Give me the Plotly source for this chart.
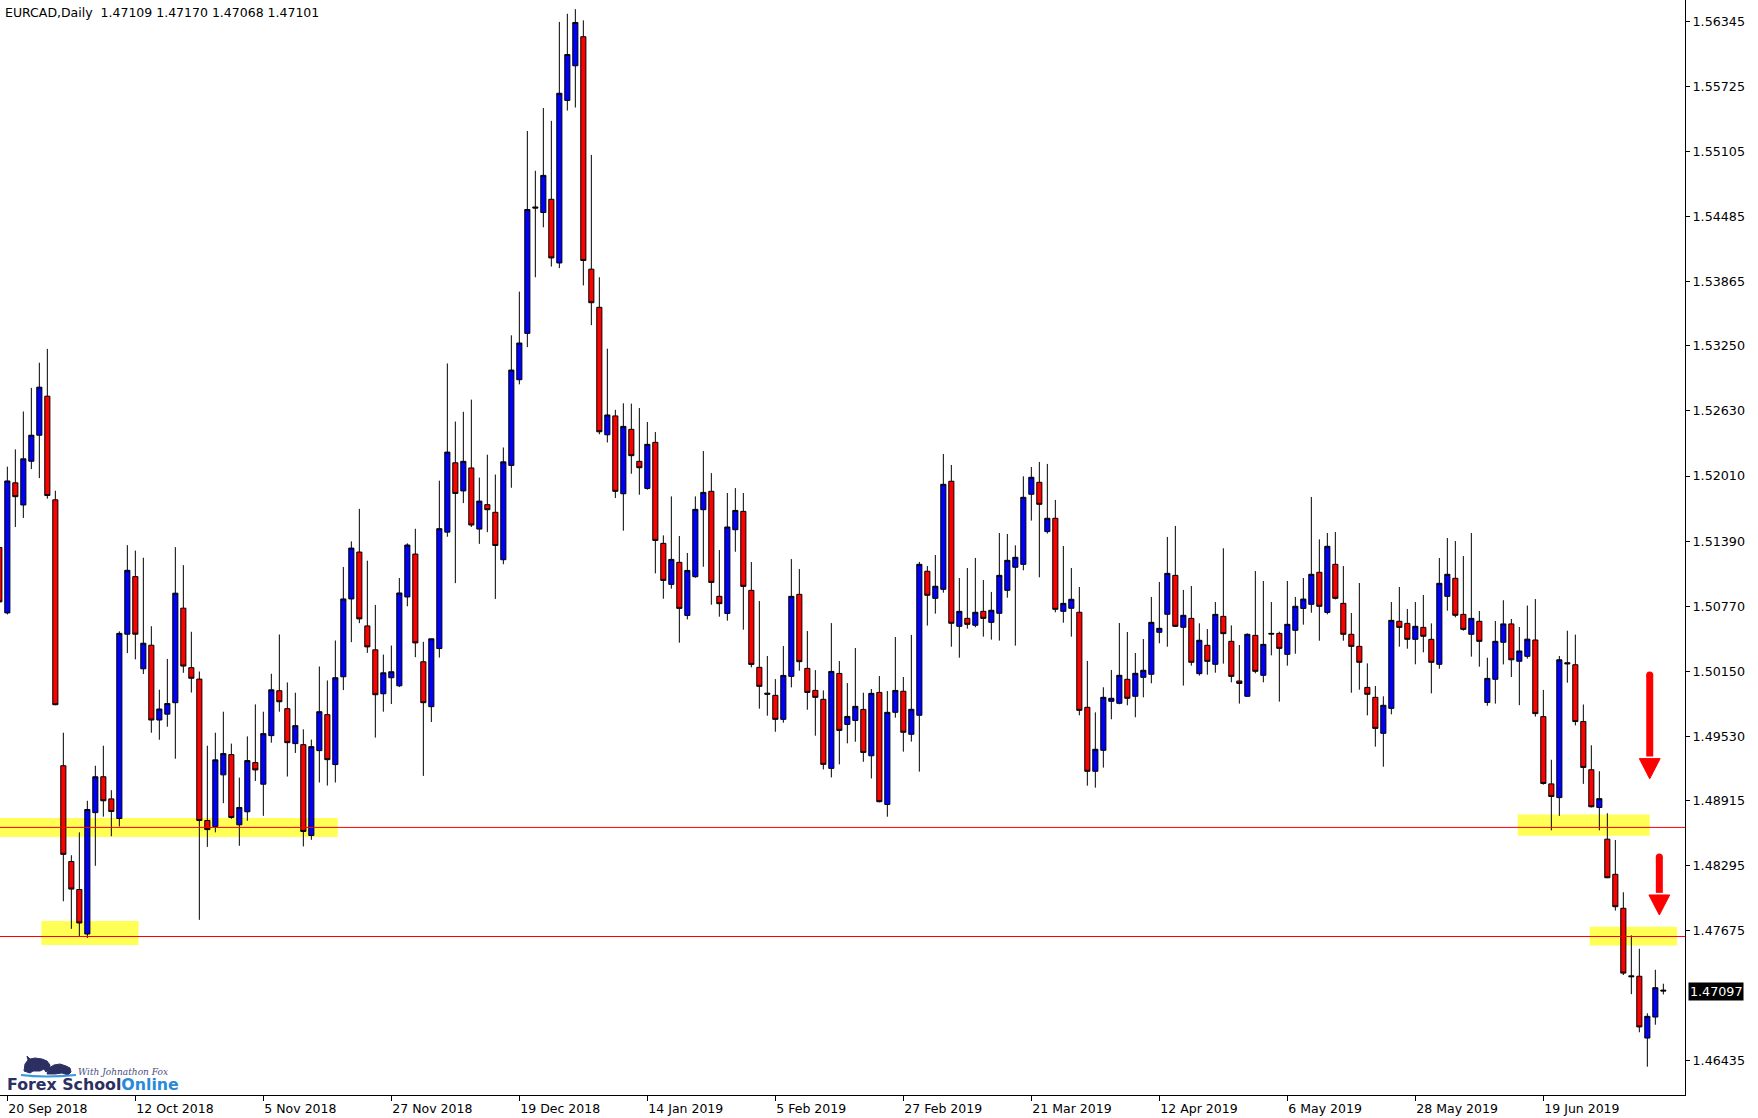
import plotly.graph_objects as go

# ---------------- data (EURCAD daily) ----------------
open_ = [1.51329,1.50705,1.51945,1.51734,1.52151,1.52399,1.52771,1.51783,1.49248,1.48335,
         1.48068,1.47644,1.48801,1.49143,1.48932,1.48745,1.50502,1.51051,1.50172,1.50397,
         1.49684,1.49740,1.49849,1.50750,1.50183,1.50074,1.48726,1.48669,1.49161,1.49354,
         1.48685,1.48809,1.49278,1.49072,1.49535,1.49963,1.49792,1.49459,1.49449,1.48583,
         1.49392,1.49735,1.49259,1.50096,1.50838,1.51285,1.50581,1.50353,1.49934,1.50087,
         1.50010,1.50857,1.51266,1.50239,1.49811,1.50365,1.51475,1.52136,1.51868,1.52087,
         1.51504,1.51737,1.51664,1.51212,1.52111,1.52928,1.53370,1.54575,1.54522,1.54648,
         1.54041,1.55591,1.55921,1.56198,1.53982,1.53618,1.52403,1.52583,1.51841,1.52455,
         1.52150,1.51892,1.52331,1.51368,1.50977,1.51187,1.50681,1.51050,1.51689,1.51864,
         1.50863,1.50700,1.51498,1.51673,1.50920,1.50186,1.49940,1.49919,1.49690,1.50100,
         1.50882,1.50176,1.49966,1.49881,1.49223,1.50128,1.49642,1.49680,1.49785,1.49343,
         1.49947,1.48879,1.49757,1.49958,1.49548,1.49729,1.51102,1.50844,1.50930,1.51960,
         1.50577,1.50653,1.50587,1.50720,1.50615,1.50701,1.50920,1.51140,1.51168,1.51836,
         1.51950,1.51480,1.51607,1.50720,1.50749,1.50711,1.49805,1.49195,1.49395,1.49862,
         1.49843,1.50072,1.49910,1.50091,1.50120,1.50520,1.50692,1.51063,1.50568,1.50653,
         1.50126,1.50396,1.50215,1.50672,1.50434,1.50056,1.49910,1.50491,1.50110,1.50510,
         1.50510,1.50310,1.50539,1.50748,1.50787,1.51092,1.50710,1.51168,1.50796,1.50501,
         1.50386,1.49995,1.49900,1.49557,1.49795,1.50625,1.50605,1.50453,1.50567,1.50453,
         1.50215,1.50863,1.51035,1.50691,1.50501,1.50625,1.49852,1.50072,1.50425,1.50600,
         1.50244,1.50291,1.50447,1.49716,1.49075,1.48944,1.50230,1.50211,1.49669,1.49210,
         1.48850,1.48548,1.48213,1.47889,1.47245,1.47241,1.46652,1.46852,1.47109]
high = [1.51450,1.52099,1.52264,1.52625,1.52850,1.53090,1.53222,1.51870,1.49563,1.48395,
        1.48613,1.48914,1.49248,1.49439,1.49015,1.50529,1.51351,1.51299,1.51231,1.50578,
        1.49973,1.50266,1.51332,1.51160,1.50525,1.50146,1.49439,1.49563,1.49763,1.49459,
        1.49135,1.49528,1.49833,1.49763,1.50125,1.50499,1.50042,1.49944,1.49595,1.49497,
        1.50194,1.50061,1.50442,1.51143,1.51387,1.51697,1.51203,1.50781,1.50308,1.50394,
        1.51038,1.51368,1.51507,1.50429,1.50458,1.51966,1.53083,1.52529,1.52622,1.52738,
        1.51995,1.52213,1.52024,1.52282,1.53351,1.53768,1.55299,1.54920,1.55518,1.55396,
        1.56339,1.56417,1.56461,1.56354,1.55071,1.53905,1.53224,1.52641,1.52703,1.52700,
        1.52658,1.52525,1.52429,1.51444,1.51816,1.51438,1.51276,1.51816,1.52248,1.52038,
        1.51304,1.51848,1.51895,1.51848,1.51190,1.50818,1.50294,1.50074,1.50389,1.51218,
        1.51123,1.50532,1.50160,1.49966,1.50608,1.50246,1.50036,1.50370,1.49944,1.49979,
        1.50103,1.49960,1.50475,1.50094,1.50495,1.51191,1.51152,1.51257,1.52220,1.52115,
        1.51038,1.51133,1.51229,1.51019,1.50905,1.51467,1.51457,1.51349,1.52007,1.52096,
        1.52144,1.52125,1.51782,1.51343,1.51133,1.50952,1.50247,1.49757,1.49996,1.50161,
        1.50609,1.50523,1.50323,1.50456,1.50857,1.51000,1.51429,1.51534,1.50924,1.50962,
        1.50606,1.50551,1.50809,1.51321,1.50586,1.50399,1.50510,1.51104,1.51009,1.50809,
        1.50526,1.51009,1.50857,1.51038,1.51810,1.51406,1.51467,1.51476,1.51152,1.50704,
        1.50990,1.50224,1.50008,1.49910,1.50809,1.50952,1.50742,1.50809,1.50876,1.50605,
        1.51228,1.51419,1.51390,1.51247,1.51467,1.50723,1.50278,1.50628,1.50826,1.50647,
        1.50571,1.50775,1.50837,1.49971,1.49305,1.50294,1.50535,1.50498,1.49832,1.49443,
        1.49196,1.48795,1.48540,1.48042,1.47631,1.47503,1.46888,1.47303,1.47170]
low = [1.50750,1.50690,1.51524,1.51610,1.52076,1.51990,1.51794,1.49825,1.47956,1.47693,
       1.47625,1.47606,1.48294,1.48763,1.48576,1.48669,1.50322,1.50262,1.50123,1.49563,
       1.49496,1.49620,1.49315,1.50134,1.49946,1.47779,1.48474,1.48613,1.48891,1.48742,
       1.48485,1.48723,1.49103,1.48770,1.49468,1.49763,1.49145,1.49370,1.48479,1.48542,
       1.49088,1.49059,1.49088,1.49969,1.50426,1.50607,1.50324,1.49516,1.49763,1.49836,
       1.49998,1.50768,1.50283,1.49151,1.49665,1.50279,1.51431,1.50989,1.51752,1.51524,
       1.51363,1.51475,1.50838,1.51169,1.51898,1.52884,1.53239,1.53905,1.54381,1.54007,
       1.53992,1.55494,1.55523,1.53827,1.53448,1.52408,1.52330,1.51800,1.51489,1.52032,
       1.51832,1.51880,1.51082,1.50840,1.50936,1.50421,1.50643,1.51040,1.51145,1.50783,
       1.50669,1.50631,1.51288,1.50545,1.50186,1.49792,1.49725,1.49572,1.49658,1.49995,
       1.50154,1.49782,1.49534,1.49213,1.49137,1.49261,1.49461,1.49477,1.49286,1.49127,
       1.48899,1.48762,1.49706,1.49382,1.49478,1.49192,1.50584,1.50698,1.50898,1.50383,
       1.50278,1.50555,1.50568,1.50479,1.50450,1.50441,1.50850,1.50393,1.51111,1.51585,
       1.51044,1.51461,1.50711,1.50612,1.50479,1.49729,1.49058,1.49039,1.49230,1.49691,
       1.49834,1.49824,1.49710,1.49900,1.50034,1.50415,1.50383,1.50570,1.50012,1.50202,
       1.50107,1.50116,1.50135,1.50221,1.50043,1.49840,1.49906,1.50129,1.50043,1.50300,
       1.49859,1.50202,1.50316,1.50593,1.50707,1.50440,1.50691,1.50834,1.50440,1.49944,
       1.49973,1.49728,1.49430,1.49239,1.49738,1.50383,1.50364,1.50215,1.50329,1.49938,
       1.50173,1.50726,1.50663,1.50536,1.50288,1.50192,1.49820,1.49840,1.50214,1.50094,
       1.49825,1.50269,1.49716,1.49068,1.48632,1.48770,1.50040,1.49632,1.49075,1.48850,
       1.48632,1.48176,1.47867,1.47253,1.47070,1.46707,1.46379,1.46779,1.47068]
close = [1.50810,1.51963,1.51813,1.52174,1.52399,1.52857,1.51824,1.49830,1.48403,1.48072,
         1.47749,1.48831,1.49143,1.48914,1.48812,1.50510,1.51111,1.50502,1.50416,1.49684,
         1.49789,1.49841,1.50893,1.50198,1.50082,1.48726,1.48639,1.49304,1.49364,1.48755,
         1.48850,1.49297,1.49208,1.49554,1.49972,1.49858,1.49468,1.49630,1.48621,1.49430,
         1.49763,1.49306,1.50087,1.50838,1.51323,1.50648,1.50381,1.49925,1.50134,1.50144,
         1.50895,1.51352,1.50419,1.49849,1.50458,1.51508,1.52238,1.51844,1.52150,1.51543,
         1.51771,1.51689,1.51348,1.52145,1.53020,1.53278,1.54551,1.54565,1.54876,1.54089,
         1.55659,1.56028,1.56334,1.54065,1.53662,1.52432,1.52592,1.51864,1.52483,1.52204,
         1.52089,1.52312,1.51396,1.51015,1.51215,1.50748,1.51110,1.51692,1.51854,1.50996,
         1.50793,1.51524,1.51682,1.50958,1.50214,1.50005,1.49930,1.49690,1.50109,1.50863,
         1.50240,1.49947,1.49900,1.49261,1.50147,1.49585,1.49718,1.49814,1.49375,1.49938,
         1.48905,1.49757,1.49966,1.49567,1.49786,1.51168,1.50873,1.50959,1.51931,1.50606,
         1.50720,1.50596,1.50711,1.50653,1.50730,1.51063,1.51206,1.51235,1.51807,1.51998,
         1.51740,1.51607,1.50739,1.50796,1.50835,1.49776,1.49195,1.49405,1.49900,1.49891,
         1.50110,1.49891,1.50129,1.50158,1.50615,1.50558,1.51082,1.50577,1.50682,1.50234,
         1.50444,1.50243,1.50691,1.50507,1.50100,1.50033,1.50501,1.50148,1.50405,1.50504,
         1.50367,1.50596,1.50768,1.50837,1.51073,1.50768,1.51340,1.50844,1.50501,1.50386,
         1.50234,1.49929,1.49604,1.49824,1.50634,1.50567,1.50453,1.50577,1.50482,1.50234,
         1.50987,1.51073,1.50682,1.50548,1.50653,1.50434,1.50081,1.50434,1.50600,1.50258,
         1.50342,1.50455,1.49745,1.49079,1.48955,1.50258,1.50220,1.49669,1.49232,1.48857,
         1.48934,1.48180,1.47904,1.47271,1.47237,1.46758,1.46859,1.47132,1.47101]

date_tick_bars = [1, 17, 33, 49, 65, 81, 97, 113, 129, 145, 161, 177, 193]
date_tick_labels = ["20 Sep 2018", "12 Oct 2018", "5 Nov 2018", "27 Nov 2018",
                    "19 Dec 2018", "14 Jan 2019", "5 Feb 2019", "27 Feb 2019",
                    "21 Mar 2019", "12 Apr 2019", "6 May 2019", "28 May 2019",
                    "19 Jun 2019"]
price_ticks = [1.56345, 1.55725, 1.55105, 1.54485, 1.53865, 1.53250, 1.52630, 1.52010,
               1.51390, 1.50770, 1.50150, 1.49530, 1.48915, 1.48295, 1.47675, 1.46435]
price_tick_labels = [f"{v:.5f}" for v in price_ticks]

support_levels = [1.48660, 1.47620]
# highlighted zones: [bar_from, bar_to, price_low, price_high]
zones = [[0.0, 42.3, 1.48569, 1.48750],
         [5.25, 17.4, 1.47539, 1.47768],
         [189.8, 206.3, 1.48581, 1.48783],
         [198.8, 209.7, 1.47535, 1.47713]]
# arrows: [bar, shaft_top, head_top, tip]
arrows = [[206.3, 1.50113, 1.49316, 1.49123],
          [207.5, 1.48378, 1.48016, 1.47825]]
last_price = 1.47097
header = "EURCAD,Daily  1.47109 1.47170 1.47068 1.47101"

# ---------------- figure ----------------
bars = list(range(len(open_)))
FONT = "DejaVu Sans"

fig = go.Figure(go.Candlestick(
    x=bars, open=open_, high=high, low=low, close=close,
    increasing=dict(fillcolor="#0000FF", line=dict(color="black", width=1)),
    decreasing=dict(fillcolor="#FF0000", line=dict(color="black", width=1)),
    whiskerwidth=0, showlegend=False, hoverinfo="skip"))

shapes = []
for x0, x1, y0, y1 in zones:
    shapes.append(dict(type="rect", xref="x", yref="y", x0=x0, x1=x1, y0=y0, y1=y1,
                       fillcolor="#FFFF55", line=dict(width=0), layer="below"))
for lvl in support_levels:
    shapes.append(dict(type="line", xref="paper", yref="y", x0=0, x1=1, y0=lvl, y1=lvl,
                       line=dict(color="#FF0000", width=1)))
for bx, top, head, tip in arrows:
    shapes.append(dict(type="line", xref="x", yref="y", x0=bx, x1=bx, y0=top, y1=head + 0.0002,
                       line=dict(color="#FF0000", width=7)))
    shapes.append(dict(type="circle", xref="x", yref="y", x0=bx - 0.44, x1=bx + 0.44,
                       y0=top - 0.00034, y1=top + 0.00034,
                       fillcolor="#FF0000", line=dict(width=0)))
    shapes.append(dict(type="path", xref="x", yref="y",
                       path=f"M {bx-1.3},{head} L {bx+1.3},{head} L {bx},{tip} Z",
                       fillcolor="#FF0000", line=dict(color="#FF0000", width=1)))

# small logo artwork (pixel offsets from the plot's bottom-left corner, y upward)
logo_common = dict(xref="paper", yref="paper", xanchor=0, yanchor=0,
                   xsizemode="pixel", ysizemode="pixel")
shapes.append(dict(type="path", **logo_common,
                   path="M 24,24 L 25,31 L 28,35 L 27,39 L 30,36 L 35,37 L 42,36 "
                        "L 47,34 L 50,30 L 49,25 L 46,23 L 44,26 L 40,24 L 33,24 L 30,22 Z",
                   fillcolor="#2c2f62", line=dict(color="#2c2f62", width=1)))
shapes.append(dict(type="path", **logo_common,
                   path="M 47,21 L 49,27 L 54,30 L 60,31 L 66,29 L 70,27 L 71,23 "
                        "L 68,20 L 62,22 L 55,21 Z",
                   fillcolor="#2c2f62", line=dict(color="#2c2f62", width=1)))
shapes.append(dict(type="path", **logo_common,
                   path="M 21,20 Q 45,17 76,20",
                   line=dict(color="#3a9ad9", width=2)))

annotations = [
    dict(text=header, xref="paper", yref="paper", x=0, y=1, xanchor="left", yanchor="top",
         xshift=3, yshift=-3, showarrow=False, font=dict(family=FONT, size=12.5, color="black")),
    dict(text=f"{last_price:.5f}", xref="paper", yref="y", x=1, y=last_price,
         xanchor="left", yanchor="middle", xshift=3, showarrow=False, bgcolor="black",
         borderpad=1, font=dict(family=FONT, size=12.7, color="white")),
    dict(text="<i>With Johnathon Fox</i>", xref="paper", yref="paper", x=0, y=0,
         xanchor="left", yanchor="bottom", xshift=76, yshift=16, showarrow=False,
         font=dict(family="DejaVu Serif", size=9, color="#4a4d80")),
    dict(text="<b>Forex School<span style='color:#2a8ad8'>Online</span></b>",
         xref="paper", yref="paper", x=0, y=0, xanchor="left", yanchor="bottom",
         xshift=5, yshift=-1, showarrow=False,
         font=dict(family=FONT, size=15.8, color="#2c2f62")),
]

fig.update_layout(
    width=1758, height=1118,
    margin=dict(l=0, r=73, t=0, b=23, pad=0),
    paper_bgcolor="white", plot_bgcolor="white",
    shapes=shapes, annotations=annotations,
    boxgap=0.2, boxgroupgap=0.2,
    xaxis=dict(range=[0.0835, 0.0835 + 1685 / 8], rangeslider=dict(visible=False),
               showgrid=False, zeroline=False, showline=True, linecolor="black", linewidth=1,
               ticks="outside", ticklen=5, tickcolor="black", tickwidth=1,
               tickvals=date_tick_bars, ticktext=date_tick_labels,
               ticklabelposition="outside right", ticklabelstandoff=2,
               tickfont=dict(family=FONT, size=12.5, color="black"), automargin=False),
    yaxis=dict(side="right", range=[1.46109, 1.56548], showgrid=False, zeroline=False,
               showline=True, linecolor="black", linewidth=1,
               ticks="outside", ticklen=4, tickcolor="black", tickwidth=1,
               tickvals=price_ticks, ticktext=price_tick_labels,
               tickfont=dict(family=FONT, size=12.7, color="black"), automargin=False),
)

fig.write_html("out.html", config={"displayModeBar": False},
               post_script="document.body.style.margin='0';document.body.style.overflow='hidden';")
